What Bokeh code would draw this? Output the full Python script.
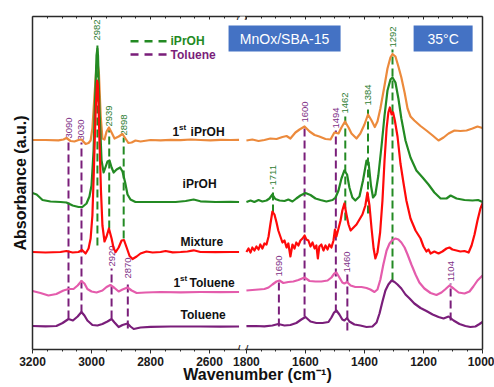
import math
from bokeh.plotting import figure
from bokeh.models import Range1d, FixedTicker, LinearAxis, Label, BoxAnnotation
from bokeh.core.properties import value
from bokeh.embed import file_html
from bokeh.resources import INLINE

FONT = "Liberation Sans"

# ---------------- data (absorbance, a.u., spectra stacked with offsets) ----------------
# high-wavenumber window 3200-2500 cm-1
wn_ipr1_hi = [3200, 3156, 3112, 3095, 3085, 3071, 3058, 3044, 3034, 3020, 3010, 3003, 2997, 2990, 2983, 2980, 2975, 2969, 2963, 2956, 2949, 2941, 2932, 2922, 2908, 2895, 2885, 2875, 2864, 2851, 2834, 2800, 2766, 2732, 2698, 2664, 2631, 2597, 2563, 2529, 2500]
a_ipr1_hi = [2.095, 2.095, 2.092, 2.10, 2.115, 2.085, 2.08, 2.095, 2.10, 2.055, 2.065, 2.09, 2.21, 2.54, 2.84, 2.87, 2.77, 2.34, 2.11, 2.10, 2.18, 2.22, 2.17, 2.11, 2.13, 2.155, 2.11, 2.065, 2.07, 2.09, 2.08, 2.095, 2.092, 2.097, 2.094, 2.10, 2.095, 2.092, 2.097, 2.095, 2.097]

wn_ipr_hi = [3200, 3186, 3166, 3139, 3105, 3085, 3064, 3044, 3031, 3017, 3007, 3000, 2993, 2988, 2983, 2980, 2978, 2973, 2966, 2959, 2953, 2946, 2939, 2932, 2925, 2915, 2903, 2895, 2886, 2878, 2868, 2851, 2817, 2766, 2715, 2681, 2654, 2631, 2580, 2529, 2500]
a_ipr_hi = [1.565, 1.55, 1.495, 1.48, 1.475, 1.47, 1.44, 1.425, 1.425, 1.46, 1.53, 1.64, 1.99, 2.49, 2.94, 3.01, 2.94, 2.39, 1.89, 1.77, 1.82, 1.88, 1.89, 1.82, 1.77, 1.80, 1.82, 1.78, 1.67, 1.55, 1.50, 1.475, 1.475, 1.475, 1.475, 1.485, 1.50, 1.482, 1.475, 1.477, 1.475]

wn_mix_hi = [3200, 3156, 3105, 3085, 3064, 3044, 3032, 3020, 3010, 3003, 2997, 2992, 2986, 2981, 2978, 2973, 2968, 2963, 2956, 2949, 2941, 2932, 2925, 2918, 2908, 2898, 2890, 2881, 2871, 2861, 2847, 2834, 2814, 2793, 2766, 2749, 2725, 2698, 2675, 2654, 2631, 2580, 2529, 2500]
a_mix_hi = [0.975, 0.97, 0.975, 0.985, 0.97, 0.975, 0.995, 0.96, 1.01, 1.11, 1.34, 1.79, 2.39, 2.69, 2.64, 2.09, 1.59, 1.24, 1.08, 1.13, 1.21, 1.11, 1.01, 0.975, 1.02, 1.09, 1.095, 1.02, 0.935, 0.905, 0.93, 0.96, 0.98, 0.97, 0.975, 0.985, 0.972, 0.975, 0.98, 0.992, 0.975, 0.973, 0.975, 0.975]

wn_tol1_hi = [3200, 3173, 3146, 3119, 3095, 3078, 3061, 3047, 3034, 3024, 3014, 3000, 2983, 2963, 2949, 2936, 2922, 2908, 2895, 2878, 2864, 2847, 2817, 2766, 2698, 2631, 2563, 2500]
a_tol1_hi = [0.585, 0.565, 0.54, 0.555, 0.59, 0.605, 0.605, 0.64, 0.685, 0.66, 0.605, 0.58, 0.57, 0.59, 0.625, 0.645, 0.615, 0.58, 0.60, 0.62, 0.59, 0.565, 0.57, 0.575, 0.572, 0.575, 0.574, 0.575]

wn_tol_hi = [3200, 3156, 3119, 3098, 3078, 3063, 3047, 3034, 3024, 3014, 2997, 2980, 2963, 2946, 2932, 2922, 2908, 2895, 2878, 2868, 2857, 2834, 2800, 2732, 2631, 2563, 2500]
a_tol_hi = [0.235, 0.232, 0.235, 0.265, 0.305, 0.29, 0.33, 0.375, 0.34, 0.29, 0.245, 0.24, 0.255, 0.28, 0.305, 0.27, 0.225, 0.245, 0.26, 0.23, 0.205, 0.22, 0.227, 0.23, 0.23, 0.228, 0.23]

# low-wavenumber window 1800-1000 cm-1
wn_ipr1_lo = [1800, 1780, 1759, 1739, 1719, 1698, 1678, 1664, 1651, 1634, 1620, 1603, 1586, 1569, 1553, 1532, 1515, 1502, 1488, 1478, 1466, 1454, 1444, 1427, 1414, 1400, 1388, 1376, 1365, 1356, 1346, 1332, 1322, 1312, 1305, 1295, 1285, 1275, 1264, 1254, 1244, 1231, 1210, 1190, 1169, 1149, 1132, 1115, 1095, 1075, 1054, 1034, 1017, 1000]
a_ipr1_lo = [2.09, 2.10, 2.085, 2.095, 2.11, 2.105, 2.125, 2.135, 2.11, 2.17, 2.20, 2.23, 2.18, 2.145, 2.13, 2.105, 2.10, 2.17, 2.16, 2.22, 2.28, 2.22, 2.16, 2.11, 2.16, 2.25, 2.35, 2.29, 2.225, 2.28, 2.41, 2.64, 2.81, 2.92, 2.955, 2.93, 2.83, 2.72, 2.57, 2.41, 2.33, 2.29, 2.235, 2.19, 2.14, 2.09, 2.12, 2.16, 2.19, 2.185, 2.19, 2.21, 2.23, 2.215]

wn_ipr_lo = [1800, 1786, 1773, 1759, 1746, 1732, 1722, 1712, 1702, 1688, 1671, 1658, 1644, 1631, 1617, 1600, 1583, 1566, 1549, 1529, 1508, 1498, 1488, 1478, 1468, 1459, 1451, 1441, 1431, 1417, 1405, 1393, 1386, 1378, 1371, 1363, 1353, 1342, 1332, 1322, 1312, 1305, 1295, 1285, 1275, 1261, 1244, 1224, 1203, 1183, 1163, 1142, 1122, 1108, 1088, 1061, 1034, 1015, 1000]
a_ipr_lo = [1.475, 1.49, 1.475, 1.495, 1.48, 1.49, 1.51, 1.55, 1.505, 1.49, 1.485, 1.50, 1.48, 1.51, 1.54, 1.565, 1.545, 1.51, 1.495, 1.48, 1.495, 1.52, 1.59, 1.71, 1.79, 1.75, 1.62, 1.52, 1.49, 1.53, 1.69, 1.89, 1.87, 1.64, 1.52, 1.55, 1.74, 2.04, 2.34, 2.59, 2.70, 2.72, 2.67, 2.51, 2.31, 2.09, 1.92, 1.79, 1.72, 1.65, 1.57, 1.51, 1.51, 1.54, 1.51, 1.495, 1.49, 1.495, 1.475]

wn_mix_lo = [1800, 1793, 1786, 1780, 1773, 1766, 1759, 1753, 1746, 1739, 1732, 1725, 1719, 1712, 1705, 1698, 1692, 1685, 1678, 1671, 1664, 1658, 1651, 1644, 1637, 1631, 1624, 1617, 1610, 1603, 1597, 1590, 1583, 1576, 1569, 1563, 1558, 1553, 1546, 1539, 1532, 1525, 1519, 1512, 1505, 1500, 1495, 1488, 1481, 1475, 1468, 1461, 1454, 1447, 1437, 1427, 1417, 1407, 1397, 1390, 1383, 1376, 1369, 1363, 1356, 1347, 1339, 1332, 1325, 1319, 1314, 1308, 1303, 1297, 1288, 1278, 1268, 1258, 1244, 1227, 1210, 1200, 1190, 1183, 1176, 1163, 1149, 1136, 1122, 1112, 1102, 1088, 1075, 1061, 1047, 1037, 1027, 1017, 1007, 1000]
a_mix_lo = [0.975, 1.01, 0.97, 1.02, 0.99, 1.03, 1.00, 1.05, 1.01, 1.06, 1.05, 1.13, 1.25, 1.38, 1.35, 1.27, 1.19, 1.13, 1.07, 1.09, 1.02, 1.06, 0.93, 1.05, 1.01, 1.07, 1.04, 1.09, 1.11, 1.14, 1.10, 1.09, 1.03, 1.07, 1.01, 1.04, 0.91, 1.03, 1.05, 0.99, 1.04, 1.00, 1.05, 1.02, 1.09, 1.20, 1.13, 1.21, 1.29, 1.39, 1.46, 1.35, 1.25, 1.19, 1.22, 1.25, 1.30, 1.35, 1.44, 1.57, 1.44, 1.21, 1.01, 0.91, 0.97, 1.17, 1.49, 1.89, 2.21, 2.37, 2.42, 2.35, 2.37, 2.29, 2.13, 1.86, 1.67, 1.49, 1.31, 1.19, 1.11, 1.03, 0.98, 1.00, 0.96, 0.98, 0.96, 0.98, 1.01, 1.02, 1.00, 0.99, 0.98, 0.985, 0.97, 1.04, 1.15, 1.29, 1.41, 1.46]

wn_tol1_lo = [1800, 1780, 1759, 1739, 1725, 1712, 1698, 1688, 1675, 1658, 1641, 1624, 1603, 1586, 1566, 1546, 1525, 1512, 1502, 1495, 1485, 1475, 1468, 1459, 1447, 1431, 1410, 1393, 1380, 1366, 1356, 1346, 1336, 1325, 1315, 1305, 1295, 1285, 1275, 1264, 1254, 1241, 1227, 1214, 1197, 1176, 1156, 1139, 1125, 1112, 1098, 1081, 1061, 1044, 1031, 1017, 1000]
a_tol1_lo = [0.59, 0.595, 0.60, 0.605, 0.62, 0.65, 0.68, 0.69, 0.665, 0.675, 0.68, 0.695, 0.72, 0.685, 0.68, 0.68, 0.69, 0.72, 0.76, 0.77, 0.72, 0.67, 0.66, 0.675, 0.64, 0.625, 0.625, 0.615, 0.60, 0.575, 0.60, 0.70, 0.85, 0.99, 1.06, 1.095, 1.11, 1.10, 1.07, 1.02, 0.95, 0.85, 0.75, 0.67, 0.61, 0.565, 0.545, 0.57, 0.605, 0.64, 0.61, 0.57, 0.56, 0.58, 0.63, 0.69, 0.74]

wn_tol_lo = [1800, 1769, 1739, 1712, 1692, 1671, 1651, 1631, 1614, 1600, 1583, 1563, 1542, 1522, 1512, 1503, 1495, 1485, 1475, 1468, 1459, 1451, 1434, 1414, 1393, 1373, 1359, 1349, 1339, 1329, 1319, 1308, 1298, 1288, 1275, 1261, 1247, 1231, 1210, 1190, 1169, 1149, 1132, 1115, 1098, 1078, 1058, 1041, 1024, 1010, 1000]
a_tol_lo = [0.233, 0.235, 0.232, 0.24, 0.255, 0.24, 0.245, 0.265, 0.30, 0.325, 0.28, 0.265, 0.265, 0.275, 0.32, 0.37, 0.39, 0.35, 0.30, 0.29, 0.315, 0.28, 0.25, 0.24, 0.225, 0.23, 0.27, 0.36, 0.48, 0.59, 0.65, 0.69, 0.675, 0.65, 0.61, 0.55, 0.51, 0.46, 0.415, 0.385, 0.35, 0.325, 0.31, 0.33, 0.29, 0.255, 0.235, 0.225, 0.23, 0.255, 0.275]

# marked bands: drawn position (cm-1), printed label, dashed-line extent (a.u.)
ipr_band_pos = [2980, 2940, 2891, 1710, 1465, 1388, 1305]
ipr_band_lbl = ["2982", "2939", "2898", "1711", "1462", "1384", "1292"]
ipr_band_top = [3.07, 2.21, 2.12, 1.62, 2.34, 2.42, 3.00]
ipr_band_bot = [1.04, 1.21, 1.11, 1.37, 1.29, 1.36, 0.69]

tol_band_pos = [3078, 3034, 2932, 2877, 1690, 1603, 1497, 1458, 1108]
tol_band_lbl = ["3090", "3030", "2920", "2870", "1690", "1600", "1494", "1460", "1104"]
tol_band_top = [2.09, 2.07, 0.81, 0.69, 0.71, 2.25, 2.19, 0.75, 0.66]
tol_band_bot = [0.31, 0.37, 0.31, 0.21, 0.23, 0.33, 0.37, 0.19, 0.29]

ticks_hi = [3200, 3000, 2800, 2600]
ticks_lo = [1800, 1600, 1400, 1200, 1000]
minor_hi = [3150, 3100, 3050, 2950, 2900, 2850, 2750, 2700, 2650, 2550]
minor_lo = [1750, 1700, 1650, 1550, 1500, 1450, 1350, 1300, 1250, 1150, 1100, 1050]

# ---------------- broken axis mapping ----------------
SHIFT = 675  # low window drawn right after the high window


def xpos(w):
    return w if w > 2000 else w + SHIFT


def xs(ws):
    return [xpos(w) for w in ws]


# pixel helpers for decorations only (frame: x 32..482, y 16..349)
def sx(px):
    return 3200 - (px - 32) / 0.295


def sy(py):
    return (349 - py) / 100.0


FRAME = "#2a2a2a"
C_ORANGE = "#EC8A3C"
C_GREEN = "#238A23"
C_RED = "#FF0A0A"
C_PINK = "#E45CAC"
C_PURPLE = "#7A1E7A"
C_GLBL = "#2E7D32"
C_PLBL = "#7E2F86"

p = figure(width=494, height=387, output_backend="svg", toolbar_location=None,
           x_range=Range1d(3200, 1675), y_range=Range1d(0, 3.33),
           min_border_left=32, min_border_right=12, min_border_top=16, min_border_bottom=38)
p.outline_line_color = None
p.grid.visible = False
p.background_fill_color = "white"
p.border_fill_color = "white"

major = xs(ticks_hi + ticks_lo)
minor = xs(minor_hi + minor_lo)

xa = p.xaxis[0]
xa.ticker = FixedTicker(ticks=major, minor_ticks=minor)
xa.major_label_overrides = {xpos(t): str(t) for t in ticks_hi + ticks_lo}
xa.major_label_text_font = FONT
xa.major_label_text_font_style = "bold"
xa.major_label_text_font_size = "12px"
xa.major_label_text_color = "#1a1a1a"
xa.major_label_standoff = 3
xa.major_tick_out = 4
xa.major_tick_in = 0
xa.minor_tick_out = 2
xa.minor_tick_in = 0
xa.axis_line_color = FRAME
xa.axis_line_width = 1.5
xa.major_tick_line_color = FRAME
xa.minor_tick_line_color = FRAME
xa.axis_label = "Wavenumber (cm\u207b\u00b9)"
xa.axis_label_text_font = FONT
xa.axis_label_text_font_style = "bold"
xa.axis_label_text_font_size = "16px"
xa.axis_label_text_color = "#111111"
xa.axis_label_standoff = -3

top = LinearAxis(ticker=FixedTicker(ticks=major, minor_ticks=minor),
                 major_label_text_font_size="1px", major_label_text_color=None,
                 major_tick_in=3, major_tick_out=0,
                 minor_tick_in=2, minor_tick_out=0, axis_line_color=FRAME, axis_line_width=1.5,
                 major_tick_line_color=FRAME, minor_tick_line_color=FRAME, major_label_standoff=0)
p.add_layout(top, "above")

ya = p.yaxis[0]
ya.ticker = FixedTicker(ticks=[])
ya.major_tick_out = 0
ya.minor_tick_out = 0
ya.axis_line_color = FRAME
ya.axis_line_width = 1.5
ya.axis_label = "Absorbance (a.u.)"
ya.axis_label_text_font = FONT
ya.axis_label_text_font_style = "bold"
ya.axis_label_text_font_size = "16px"
ya.axis_label_text_color = "#111111"
ya.axis_label_standoff = 4
ya.major_label_standoff = 0

right = LinearAxis(ticker=FixedTicker(ticks=[]),
                   major_tick_out=0, minor_tick_out=0, axis_line_color=FRAME, axis_line_width=1.5,
                   major_label_standoff=0)
p.add_layout(right, "right")

# dashed band markers
for pos, lbl, t, b, col, lcol in [(ipr_band_pos, ipr_band_lbl, ipr_band_top, ipr_band_bot, C_GREEN, C_GLBL),
                                  (tol_band_pos, tol_band_lbl, tol_band_top, tol_band_bot, C_PURPLE, C_PLBL)]:
    p.segment(x0=xs(pos), y0=b, x1=xs(pos), y1=t, line_color=col, line_width=2, line_dash="8 4")
    p.text(x=xs(pos), y=t, text=lbl, angle=math.pi / 2, text_align="left", text_baseline="middle",
           y_offset=-2, text_font=value(FONT), text_font_size="9.5px", text_color=lcol)

# spectra
spectra = [
    (wn_ipr1_hi, a_ipr1_hi, wn_ipr1_lo, a_ipr1_lo, C_ORANGE),
    (wn_ipr_hi, a_ipr_hi, wn_ipr_lo, a_ipr_lo, C_GREEN),
    (wn_tol1_hi, a_tol1_hi, wn_tol1_lo, a_tol1_lo, C_PINK),
    (wn_tol_hi, a_tol_hi, wn_tol_lo, a_tol_lo, C_PURPLE),
    (wn_mix_hi, a_mix_hi, wn_mix_lo, a_mix_lo, C_RED),
]
for wh, ah, wl, al, col in spectra:
    p.line(xs(wh), ah, line_color=col, line_width=2.2, line_join="round")
    p.line(xs(wl), al, line_color=col, line_width=2.2, line_join="round")

# axis break
p.add_layout(BoxAnnotation(left=sx(239.5), right=sx(244.5), top=sy(12), bottom=sy(19),
                           fill_color="white", fill_alpha=1, line_color=None))
p.add_layout(BoxAnnotation(left=sx(239.5), right=sx(244.5), top=sy(346), bottom=sy(353),
                           fill_color="white", fill_alpha=1, line_color=None))
for bx in (238, 246):
    for by in (15, 349):
        p.add_layout(Label(x=sx(bx), y=sy(by), text="/", text_align="center", text_baseline="middle",
                           text_font=FONT, text_font_size="13px", text_color=FRAME))

# legend
for py, col, name in [(40.7, C_GREEN, "iPrOH"), (54, C_PURPLE, "Toluene")]:
    p.segment(x0=[sx(130)], y0=[sy(py)], x1=[sx(167)], y1=[sy(py)], line_color=col,
              line_width=2.5, line_dash="8 6")
    p.add_layout(Label(x=sx(170), y=sy(py), text=name, text_baseline="middle", text_font=FONT,
                       text_font_style="bold", text_font_size="12px", text_color=col))


# spectrum names
def name_label(px, py, txt, size="12px"):
    p.add_layout(Label(x=sx(px), y=sy(py), text=txt, text_baseline="middle", text_font=FONT,
                       text_font_style="bold", text_font_size=size, text_color="#111111"))


name_label(172, 131, "1")
name_label(178.5, 126.5, "st", "8px")
name_label(190, 131, "iPrOH")
name_label(182, 183.5, "iPrOH")
name_label(180, 241, "Mixture")
name_label(173, 282, "1")
name_label(179.5, 277.5, "st", "8px")
name_label(189, 282, "Toluene")
name_label(180, 314, "Toluene")

# info boxes
for l, r, cx, txt in [(228, 340, 284, "MnOx/SBA-15"), (413, 472, 442.5, "35\u00b0C")]:
    p.add_layout(BoxAnnotation(left=sx(l), right=sx(r), top=sy(25), bottom=sy(51),
                               fill_color="#4472C4", fill_alpha=1, line_color=None))
    p.add_layout(Label(x=sx(cx), y=sy(38), text=txt, text_align="center", text_baseline="middle",
                       text_font=FONT, text_font_size="14px", text_color="white"))

open("out.html", "w").write(file_html(p, INLINE))
